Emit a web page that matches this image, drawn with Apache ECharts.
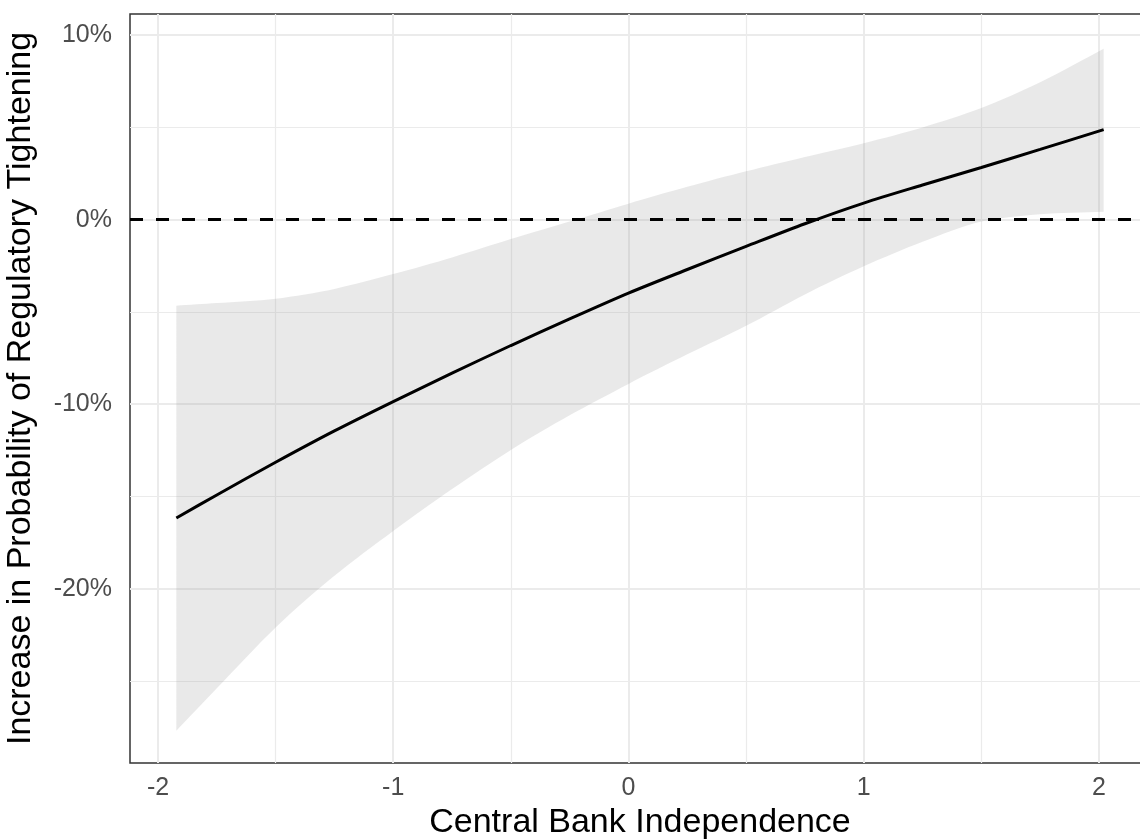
<!DOCTYPE html>
<html>
<head>
<meta charset="utf-8">
<script src="https://cdn.jsdelivr.net/npm/echarts@6/dist/echarts.min.js"></script>
<style>
html,body{margin:0;padding:0;background:#fff;overflow:hidden;width:1140px;height:840px;}
#chart{width:1152px;height:840px;}
</style>
</head>
<body>
<div id="chart"></div>
<script>
// Data (percent)
const xValues = [-1.922, -1.75, -1.5, -1.25, -1, -0.75, -0.5, -0.25, 0, 0.25, 0.5, 0.75, 1, 1.25, 1.5, 1.75, 2.02];
const fitValues = [-16.17, -14.92, -13.15, -11.45, -9.86, -8.32, -6.82, -5.38, -3.98, -2.70, -1.45, -0.22, 0.90, 1.88, 2.83, 3.81, 4.88];
const upperValues = [-4.66, -4.52, -4.28, -3.75, -2.95, -2.05, -1.05, -0.10, 0.87, 1.78, 2.62, 3.40, 4.15, 5.00, 6.05, 7.45, 9.27];
const lowerValues = [-27.70, -25.40, -22.10, -19.30, -16.87, -14.60, -12.48, -10.60, -8.90, -7.30, -5.75, -4.05, -2.53, -1.20, -0.10, 0.30, 0.43];

const xMajorTicks = [-2, -1, 0, 1, 2];
const xMinorTicks = [-1.5, -0.5, 0.5, 1.5];
const yMajorTicks = [-20, -10, 0, 10];
const yMinorTicks = [-25, -15, -5, 5];
const refLineValue = 0;

const xTitle = 'Central Bank Independence';
const yTitle = 'Increase in Probability of Regulatory Tightening';

const X_MIN = -2.119, X_MAX = 2.217;
const Y_MIN = -29.45, Y_MAX = 11.15;
const FONT = '"Liberation Sans", Arial, sans-serif';

const fitData = xValues.map((x, i) => [x, fitValues[i]]);
const bandData = xValues.map((x, i) => [x, lowerValues[i], upperValues[i]]);

const gridLines = [];
xMajorTicks.forEach(v => gridLines.push({xAxis: v, lineStyle: {width: 2}}));
xMinorTicks.forEach(v => gridLines.push({xAxis: v, lineStyle: {width: 1.2}}));
yMajorTicks.forEach(v => gridLines.push({yAxis: v, lineStyle: {width: 2}}));
yMinorTicks.forEach(v => gridLines.push({yAxis: v, lineStyle: {width: 1.2}}));

const chart = echarts.init(document.getElementById('chart'), null, {renderer: 'canvas'});
chart.setOption({
  animation: false,
  backgroundColor: '#ffffff',
  textStyle: {fontFamily: FONT},
  grid: {
    left: 130, top: 14, width: 1020, height: 749,
    show: true, borderColor: '#333333', borderWidth: 1.5, backgroundColor: '#ffffff',
    containLabel: false,
    outerBoundsMode: 'none'
  },
  xAxis: {
    type: 'value', min: X_MIN, max: X_MAX,
    axisLine: {show: false},
    splitLine: {show: false},
    axisTick: {show: true, length: 8, lineStyle: {color: '#333333', width: 2}, customValues: xMajorTicks},
    axisLabel: {customValues: xMajorTicks, color: '#4d4d4d', fontSize: 25, margin: 13, fontFamily: FONT,
      formatter: v => String(v)},
    name: xTitle, nameLocation: 'middle', nameGap: 32,
    nameTextStyle: {color: '#000', fontSize: 34, fontFamily: FONT}
  },
  yAxis: {
    type: 'value', min: Y_MIN, max: Y_MAX,
    axisLine: {show: false},
    splitLine: {show: false},
    axisTick: {show: true, length: 8, lineStyle: {color: '#333333', width: 2}, customValues: yMajorTicks},
    axisLabel: {customValues: yMajorTicks, color: '#4d4d4d', fontSize: 25, margin: 18, fontFamily: FONT,
      formatter: v => v + '%'},
    name: yTitle, nameLocation: 'middle', nameGap: 92, nameRotate: 90,
    nameTextStyle: {color: '#000', fontSize: 34, fontFamily: FONT}
  },
  series: [
    {
      type: 'line', name: 'grid', data: [], silent: true, z: 1,
      markLine: {
        silent: true, symbol: 'none', z: 1, animation: false,
        label: {show: false},
        lineStyle: {color: '#ebebeb', type: 'solid'},
        emphasis: {disabled: true},
        data: gridLines
      }
    },
    {
      type: 'custom', name: 'band', z: 2, silent: true,
      data: bandData,
      encode: {x: 0, y: [1, 2]},
      renderItem: function (params, api) {
        if (params.dataIndex !== 0) return null;
        const upper = [], lower = [];
        for (let i = 0; i < bandData.length; i++) {
          upper.push(api.coord([bandData[i][0], bandData[i][2]]));
          lower.push(api.coord([bandData[i][0], bandData[i][1]]));
        }
        lower.reverse();
        // duplicate the corner vertices so smoothing keeps the vertical ends sharp
        const pts = [upper[0]].concat(upper, [upper[upper.length - 1]], [lower[0]], lower, [lower[lower.length - 1]]);
        return {
          type: 'polygon',
          shape: {points: pts, smooth: 0.3},
          style: {fill: 'rgba(153,153,153,0.22)', stroke: null}
        };
      }
    },
    {
      type: 'line', name: 'fit', data: fitData, z: 3,
      showSymbol: false, symbol: 'none', smooth: 0.3,
      lineStyle: {color: '#000000', width: 3},
      silent: true,
      markLine: {
        silent: true, symbol: 'none', z: 4,
        label: {show: false},
        lineStyle: {color: '#000000', width: 3, type: [13, 13]},
        data: [{yAxis: refLineValue}]
      }
    }
  ]
});
</script>
</body>
</html>
